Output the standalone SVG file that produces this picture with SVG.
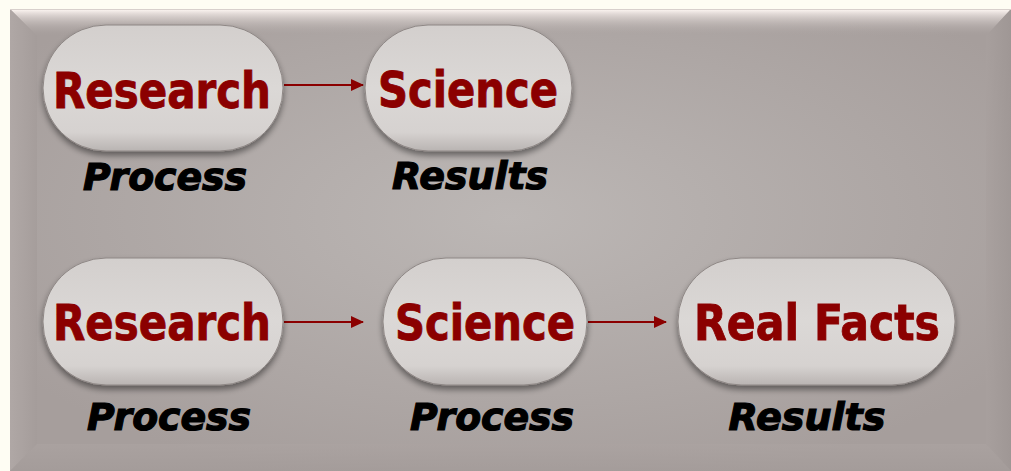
<svg xmlns="http://www.w3.org/2000/svg" width="1011" height="471" viewBox="0 0 1011 471">
<defs>
<radialGradient id="panelG" cx="0.5" cy="0.45" r="0.6">
<stop offset="0" stop-color="#bcb7b5"/>
<stop offset="1" stop-color="#a69e9c"/>
</radialGradient>
<linearGradient id="topB" x1="0" y1="0" x2="0" y2="1">
<stop offset="0" stop-color="#fff8f4"/>
<stop offset="0.15" stop-color="#e6dedb"/>
<stop offset="1" stop-color="#a9a19f" stop-opacity="0"/>
</linearGradient>
<linearGradient id="leftB" x1="0" y1="0" x2="1" y2="0">
<stop offset="0" stop-color="#b2aaa8"/>
<stop offset="1" stop-color="#a49c9a"/>
</linearGradient>
<linearGradient id="rightB" x1="0" y1="0" x2="1" y2="0">
<stop offset="0" stop-color="#a8a09e"/>
<stop offset="1" stop-color="#9c9492"/>
</linearGradient>
<linearGradient id="botB" x1="0" y1="0" x2="0" y2="1">
<stop offset="0" stop-color="#aba3a1"/>
<stop offset="1" stop-color="#a39b99"/>
</linearGradient>
<linearGradient id="pillG" x1="0" y1="0" x2="0" y2="1">
<stop offset="0" stop-color="#d3cfcd"/>
<stop offset="0.5" stop-color="#dbd8d6"/>
<stop offset="0.85" stop-color="#d6d2d0"/>
<stop offset="1" stop-color="#b9b4b2"/>
</linearGradient>
<filter id="sh" x="-10%" y="-10%" width="120%" height="130%">
<feGaussianBlur in="SourceAlpha" stdDeviation="3"/>
<feOffset dy="4" result="b"/>
<feComponentTransfer><feFuncA type="linear" slope="0.45"/></feComponentTransfer>
<feMerge><feMergeNode/><feMergeNode in="SourceGraphic"/></feMerge>
</filter>
<marker id="ah" markerWidth="13" markerHeight="12" refX="12" refY="6" orient="auto" markerUnits="userSpaceOnUse">
<path d="M0,0 L13,6 L0,12 Z" fill="#8b0000"/>
</marker>
</defs>
<style>
.pill{fill:url(#pillG);stroke:#8e8785;stroke-width:1;filter:url(#sh)}
.t{font-family:"DejaVu Sans Condensed","DejaVu Sans",Verdana,sans-serif;font-weight:bold;fill:#8b0000;stroke:#8b0000;stroke-width:0.8;font-size:49px;text-anchor:middle}
.l{font-family:"DejaVu Sans","Liberation Sans",sans-serif;font-weight:bold;font-style:italic;fill:#000;stroke:#000;stroke-width:1.2;font-size:37px;text-anchor:middle}
.c{stroke:#8b0000;stroke-width:2;fill:none;marker-end:url(#ah)}
</style>
<rect x="0" y="0" width="1011" height="471" fill="#fefdf3"/>
<g id="panel">
<rect x="10" y="9" width="1001" height="462" fill="url(#panelG)"/>
<polygon points="10,9 1011,9 986,36 37,36" fill="url(#topB)"/>
<polygon points="10,9 37,36 37,444 10,471" fill="url(#leftB)" opacity="0.8"/>
<polygon points="1011,9 1011,471 986,444 986,36" fill="url(#rightB)" opacity="0.7"/>
<polygon points="10,471 37,444 986,444 1011,471" fill="url(#botB)" opacity="0.7"/>
<line x1="10" y1="9.5" x2="1011" y2="9.5" stroke="#d8d0cc" stroke-width="1"/>
</g>
<g id="connectors">
<line class="c" x1="284" y1="85" x2="363" y2="85"/>
<line class="c" x1="284" y1="322" x2="363" y2="322"/>
<line class="c" x1="588" y1="322" x2="666" y2="322"/>
</g>
<g id="n1">
<rect class="pill" x="43" y="25" width="240" height="126" rx="63"/>
<text class="t" x="162" y="108" textLength="218" lengthAdjust="spacingAndGlyphs">Research</text>
<text class="l" x="165" y="190" textLength="164" lengthAdjust="spacingAndGlyphs">Process</text>
</g>
<g id="n2">
<rect class="pill" x="365" y="25" width="207" height="126" rx="63"/>
<text class="t" x="468" y="107" textLength="180" lengthAdjust="spacingAndGlyphs">Science</text>
<text class="l" x="470" y="189" textLength="156" lengthAdjust="spacingAndGlyphs">Results</text>
</g>
<g id="n3">
<rect class="pill" x="43" y="258" width="240" height="127" rx="63"/>
<text class="t" x="162" y="340" textLength="218" lengthAdjust="spacingAndGlyphs">Research</text>
<text class="l" x="169" y="430" textLength="164" lengthAdjust="spacingAndGlyphs">Process</text>
</g>
<g id="n4">
<rect class="pill" x="383" y="258" width="204" height="127" rx="63"/>
<text class="t" x="485" y="340" textLength="180" lengthAdjust="spacingAndGlyphs">Science</text>
<text class="l" x="492" y="430" textLength="164" lengthAdjust="spacingAndGlyphs">Process</text>
</g>
<g id="n5">
<rect class="pill" x="678" y="258" width="277" height="127" rx="63"/>
<text class="t" x="817" y="340" textLength="246" lengthAdjust="spacingAndGlyphs">Real Facts</text>
<text class="l" x="807" y="430" textLength="157" lengthAdjust="spacingAndGlyphs">Results</text>
</g>
</svg>
